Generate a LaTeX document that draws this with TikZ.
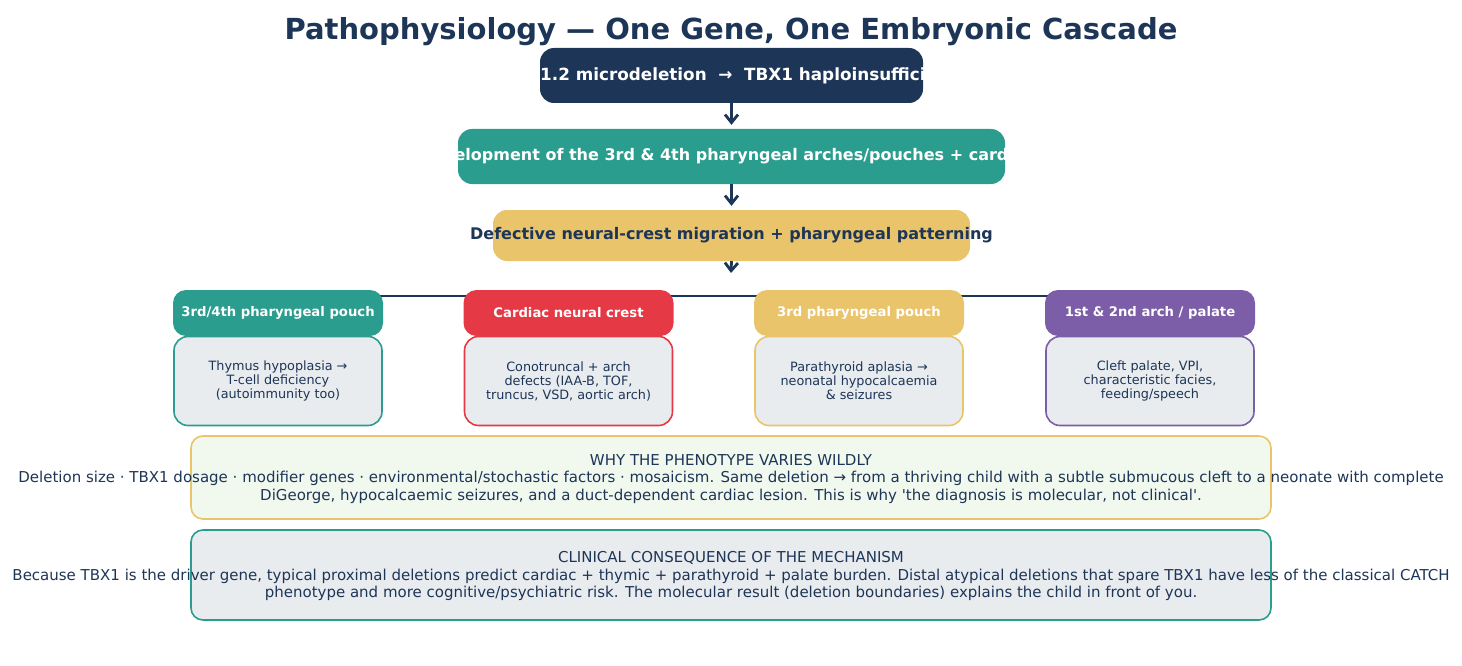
\documentclass[tikz,border=0pt]{standalone}
\usepackage{fontspec}
\setmainfont{DejaVu Sans}
\newfontfamily\narrowfont[Ligatures=TeXOff]{DejaVu Sans}
\usetikzlibrary{arrows.meta}
\definecolor{cNavy}{HTML}{1D3557}
\definecolor{cTeal}{HTML}{2A9D8F}
\definecolor{cYellow}{HTML}{E9C46A}
\definecolor{cRed}{HTML}{E63946}
\definecolor{cPurple}{HTML}{7B5EA7}
\definecolor{cGray}{HTML}{E9ECEF}
\definecolor{cMint}{HTML}{F1F8EE}

\begin{document}
\begin{tikzpicture}[x=1pt, y=-1pt]
  \tikzset{flowbox/.style={rounded corners=14pt, inner sep=0pt, minimum height=55pt}}
  \tikzset{flowtext/.style={font=\fontsize{16}{19}\selectfont\bfseries}}
  \tikzset{headbox/.style={rounded corners=13pt, inner sep=0pt, minimum width=210pt, minimum height=46pt, text=white, font=\fontsize{13.2}{15}\selectfont\bfseries}}
  \tikzset{detailbox/.style={draw, line width=1.6pt, fill=cGray, rounded corners=14pt, inner sep=0pt, minimum width=208pt, minimum height=89pt, align=center, text=cNavy, font=\fontsize{12.8}{14}\selectfont}}
  \tikzset{notebox/.style={draw, line width=1.6pt, rounded corners=12pt, inner sep=0pt, minimum width=1080pt}}
  \tikzset{notetext/.style={align=center, text=cNavy, font=\fontsize{15}{17.5}\narrowfont}}
  \tikzset{flowarrow/.style={-{Straight Barb[length=8pt, width=13pt]}, line width=2.8pt, draw=cNavy}}

  \useasboundingbox (0,0) rectangle (1462,666);

  \node[text=cNavy, font=\fontsize{29}{34}\selectfont\bfseries] (title) at (731,32) {Pathophysiology — One Gene, One Embryonic Cascade};

  % cascade
  \node[flowbox, fill=cNavy, minimum width=383pt] (gene) at (731.5,75.5) {};
  \node[flowtext, text=white, font=\fontsize{16.8}{19}\selectfont\bfseries] (genetext) at (gene.center) {22q11.2 microdeletion~~→~~TBX1 haploinsufficiency};
  \node[flowbox, fill=cTeal, minimum width=547pt] (arches) at (731.5,156.5) {};
  \node[flowtext, text=white] (archestext) at (arches.center) {elopment of the 3rd \& 4th pharyngeal arches/pouches + card};
  \node[flowbox, fill=cYellow, minimum width=477pt, minimum height=51pt] (pattern) at (731.5,235.5) {};
  \node[flowtext, text=cNavy] (patterntext) at (pattern.center) {Defective neural-crest migration + pharyngeal patterning};

  \coordinate (fork) at (731,273);
  \draw[flowarrow, shorten >=4pt] (gene.south) -- (arches.north);
  \draw[flowarrow, shorten >=4pt] (arches.south) -- (pattern.north);
  \draw[flowarrow] (pattern.south) -- (fork);

  \coordinate (busL) at (278,296);
  \coordinate (busR) at (1150,296);
  \draw[cNavy, line width=2.5pt] (busL) -- (busR);

  % four branches
  \node[detailbox, draw=cTeal] (thymus) at (278,381) {Thymus hypoplasia →\\T-cell deficiency\\(autoimmunity too)};
  \node[headbox, fill=cTeal] (thymushead) at (278,313) {3rd/4th pharyngeal pouch};
  \node[detailbox, draw=cRed] (heart) at (568.5,381) {Conotruncal + arch\\defects (IAA-B, TOF,\\truncus, VSD, aortic arch)};
  \node[headbox, fill=cRed] (hearthead) at (568.5,313) {Cardiac neural crest};
  \node[detailbox, draw=cYellow] (parathyroid) at (859,381) {Parathyroid aplasia →\\neonatal hypocalcaemia\\\& seizures};
  \node[headbox, fill=cYellow] (parathyroidhead) at (859,313) {3rd pharyngeal pouch};
  \node[detailbox, draw=cPurple] (palate) at (1150,381) {Cleft palate, VPI,\\characteristic facies,\\feeding/speech};
  \node[headbox, fill=cPurple] (palatehead) at (1150,313) {1st \& 2nd arch / palate};

  % notes
  \node[notebox, draw=cYellow, fill=cMint, minimum height=83pt] (whybox) at (731,477.5) {};
  \node[notetext] (whytext) at (731,478.5) {WHY THE PHENOTYPE VARIES WILDLY\\Deletion size · TBX1 dosage · modifier genes · environmental/stochastic factors · mosaicism. Same deletion → from a thriving child with a subtle submucous cleft to a neonate with complete\\DiGeorge, hypocalcaemic seizures, and a duct-dependent cardiac lesion. This is why 'the diagnosis is molecular, not clinical'.};
  \node[notebox, draw=cTeal, fill=cGray, minimum height=90pt] (clinbox) at (731,575) {};
  \node[notetext] (clintext) at (731,576) {CLINICAL CONSEQUENCE OF THE MECHANISM\\Because TBX1 is the driver gene, typical proximal deletions predict cardiac + thymic + parathyroid + palate burden. Distal atypical deletions that spare TBX1 have less of the classical CATCH\\phenotype and more cognitive/psychiatric risk. The molecular result (deletion boundaries) explains the child in front of you.};
\end{tikzpicture}
\end{document}
